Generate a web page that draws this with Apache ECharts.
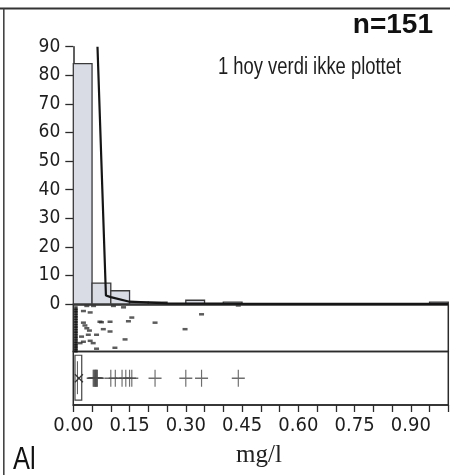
<!DOCTYPE html>
<html><head><meta charset="utf-8">
<script src="https://cdn.jsdelivr.net/npm/echarts@6/dist/echarts.min.js"></script>
<style>html,body{margin:0;padding:0;background:#fff}#c{width:450px;height:475px}</style>
</head><body><div id="c"></div>
<script>
// ---- data ----
const yTicks = [0, 10, 20, 30, 40, 50, 60, 70, 80, 90];
const xTickLabels = ['0.00', '0.15', '0.30', '0.45', '0.60', '0.75', '0.90'];
// histogram bins (mg/l) and percentage of n=151
const binLo  = [0.00, 0.05, 0.10, 0.15, 0.20, 0.30, 0.40, 0.95];
const binHi  = [0.05, 0.10, 0.15, 0.20, 0.25, 0.35, 0.45, 1.00];
const binPct = [84.1, 7.28, 4.64, 0.66, 0.66, 1.32, 0.66, 0.66];
// fitted density curve (clipped at 90)
const densX = [0.0645, 0.087, 0.10, 0.15, 0.25, 0.40, 0.60, 1.00];
const densY = [90, 3.0, 2.4, 0.8, 0.25, 0.12, 0.07, 0.05];
// jittered dot strip: value and vertical jitter (0..1)
const dotX = [0.036, 0.054, 0.107, 0.134, 0.045, 0.027, 0.156, 0.147, 0.071, 0.098, 0.218, 0.342, 0.298, 0.080,
              0.098, 0.027, 0.031, 0.036, 0.043, 0.040, 0.062, 0.138, 0.027, 0.045, 0.053, 0.062, 0.111, 0.440,
              0.018, 0.022, 0.075];
const dotJ = [0.98, 0.98, 0.98, 0.95, 0.84, 0.87, 0.73, 0.65, 0.64, 0.64, 0.62, 0.80, 0.48, 0.48,
              0.43, 0.62, 0.56, 0.50, 0.45, 0.36, 0.36, 0.26, 0.21, 0.23, 0.18, 0.06, 0.08, 0.99,
              0.18, 0.32, 0.63];
// dense column of values near zero
const zeroX = [0.007, 0.007, 0.007, 0.007, 0.007, 0.007, 0.007, 0.007, 0.007, 0.007, 0.007, 0.007, 0.007, 0.007, 0.007, 0.007, 0.007, 0.007];
const zeroJ = [0.02, 0.07, 0.12, 0.17, 0.22, 0.28, 0.33, 0.39, 0.44, 0.50, 0.55, 0.61, 0.66, 0.72, 0.77, 0.83, 0.88, 0.93];
// box plot
const boxQ1 = 0.0045, boxMed = 0.011, boxMean = 0.015, boxQ3 = 0.0225;
const outliers = [0.053, 0.055, 0.056, 0.058, 0.059, 0.060, 0.062, 0.063, 0.064, 0.100, 0.112, 0.130, 0.140, 0.150, 0.156, 0.218, 0.300, 0.342, 0.440];

// ---- chart ----
const COND = "'DejaVu Sans Condensed','Liberation Sans Narrow','Arial Narrow',sans-serif";
const SANS = "'Liberation Sans',Arial,sans-serif";
const ink = '#2b2b2b';
const chart = echarts.init(document.getElementById('c'), null, {renderer: 'canvas'});

const histData = binLo.map((lo, i) => [lo, binHi[i], binPct[i]]);
const densData = densX.map((x, i) => [x, densY[i]]);
const dotData = dotX.map((x, i) => [x, dotJ[i]]);
const zeroData = zeroX.map((x, i) => [x, zeroJ[i]]);
const outData = outliers.map(x => [x, 0.5]);
const plusPath = 'path://M0,4.5H10V5.5H0Z M4.55,0H5.45V10H4.55Z';

const option = {
  animation: false,
  backgroundColor: '#fff',
  grid: [
    {left: 73.3, right: 1.7, top: 46.7, height: 257.3, outerBoundsMode: 'none'},
    {left: 73.3, right: 1.7, top: 305, height: 46.5, show: true, borderColor: ink, borderWidth: 1.5, outerBoundsMode: 'none'},
    {left: 73.3, right: 1.7, top: 351.5, height: 53.5, show: true, borderColor: ink, borderWidth: 1.5, outerBoundsMode: 'none'}
  ],
  xAxis: [
    {gridIndex: 0, type: 'value', min: 0, max: 1, axisLine: {show: true, lineStyle: {color: ink, width: 1.5}},
     axisTick: {show: false}, axisLabel: {show: false}, splitLine: {show: false}},
    {gridIndex: 1, type: 'value', min: 0, max: 1, show: false},
    {gridIndex: 2, type: 'value', min: 0, max: 1, interval: 0.05,
     axisLine: {show: true, lineStyle: {color: ink, width: 1.5}},
     axisTick: {show: true, length: 7, lineStyle: {color: ink, width: 1.3}},
     axisLabel: {show: true, margin: 11, fontFamily: COND, fontSize: 20, color: '#1e1e1e',
       formatter: v => { const s = v.toFixed(2); return xTickLabels.indexOf(s) >= 0 ? s : ''; }},
     splitLine: {show: false}}
  ],
  yAxis: [
    {gridIndex: 0, type: 'value', min: 0, max: 90, interval: 10,
     axisLine: {show: true, lineStyle: {color: ink, width: 1.5}},
     axisTick: {show: true, length: 8, lineStyle: {color: ink, width: 1.3}},
     axisLabel: {margin: 13, fontFamily: COND, fontSize: 19, color: '#1e1e1e',
       formatter: v => yTicks.indexOf(v) >= 0 ? String(v) : ''},
     splitLine: {show: false}},
    {gridIndex: 1, type: 'value', min: 0, max: 1, show: false},
    {gridIndex: 2, type: 'value', min: 0, max: 1, show: false}
  ],
  series: [
    {type: 'custom', xAxisIndex: 0, yAxisIndex: 0, data: histData, encode: {x: [0, 1], y: 2},
     renderItem: (params, api) => {
       const p0 = api.coord([api.value(0), api.value(2)]);
       const p1 = api.coord([api.value(1), 0]);
       return {type: 'rect', shape: {x: p0[0], y: p0[1], width: p1[0] - p0[0], height: p1[1] - p0[1]},
               style: {fill: '#d9dce5', stroke: '#3a3a3a', lineWidth: 1.3}};
     }},
    {type: 'line', xAxisIndex: 0, yAxisIndex: 0, data: densData, symbol: 'none', clip: true,
     lineStyle: {color: '#151515', width: 2.2}},
    {type: 'scatter', xAxisIndex: 1, yAxisIndex: 1, data: dotData, symbol: 'rect', symbolSize: [5, 2.5],
     itemStyle: {color: '#333'}},
    {type: 'scatter', xAxisIndex: 1, yAxisIndex: 1, data: zeroData, symbol: 'rect', symbolSize: [3.5, 4],
     itemStyle: {color: '#111'}},
    {type: 'custom', xAxisIndex: 2, yAxisIndex: 2, data: [[boxQ1, boxQ3, boxMed, boxMean]],
     renderItem: (params, api) => {
       const a = api.coord([api.value(0), 0.93]);
       const b = api.coord([api.value(1), 0.09]);
       const m = api.coord([api.value(2), 0.5]);
       const mn = api.coord([api.value(3), 0.5]);
       return {type: 'group', children: [
         {type: 'rect', shape: {x: a[0], y: a[1], width: b[0] - a[0], height: b[1] - a[1]},
          style: {fill: 'none', stroke: '#444', lineWidth: 1.2}},
         {type: 'line', shape: {x1: m[0], y1: a[1] + 6, x2: m[0], y2: b[1] - 6}, style: {stroke: '#555', lineWidth: 1}},
         {type: 'line', shape: {x1: mn[0] - 4, y1: mn[1] - 4, x2: mn[0] + 4, y2: mn[1] + 4}, style: {stroke: '#333', lineWidth: 1.2}},
         {type: 'line', shape: {x1: mn[0] - 4, y1: mn[1] + 4, x2: mn[0] + 4, y2: mn[1] - 4}, style: {stroke: '#333', lineWidth: 1.2}}
       ]};
     }},
    {type: 'scatter', xAxisIndex: 2, yAxisIndex: 2, data: outData, symbol: plusPath, symbolKeepAspect: false,
     symbolSize: [13, 17], itemStyle: {color: '#4a4a4a'}}
  ],
  graphic: [
    {type: 'line', shape: {x1: 0, y1: 8.5, x2: 450, y2: 8.5}, style: {stroke: '#333', lineWidth: 2}},
    {type: 'line', shape: {x1: 3.8, y1: 8.5, x2: 3.8, y2: 475}, style: {stroke: '#444', lineWidth: 1.6}},
    {type: 'text', x: 433, y: 25, style: {text: 'n=151', font: "bold 28px " + SANS,
      fill: '#111', align: 'right', verticalAlign: 'middle'}},
    {type: 'text', x: 218, y: 68, scaleX: 0.8, style: {text: '1 hoy verdi ikke plottet', font: "23px " + SANS,
      fill: '#1e1e1e', align: 'left', verticalAlign: 'middle'}},
    {type: 'text', x: 13, y: 460, scaleX: 0.82, style: {text: 'Al', font: "31px " + SANS,
      fill: '#111', align: 'left', verticalAlign: 'middle'}},
    {type: 'text', x: 259, y: 455, style: {text: 'mg/l', font: "25px 'Liberation Serif','Times New Roman',serif",
      fill: '#222', align: 'center', verticalAlign: 'middle'}}
  ]
};
chart.setOption(option);
</script></body></html>
